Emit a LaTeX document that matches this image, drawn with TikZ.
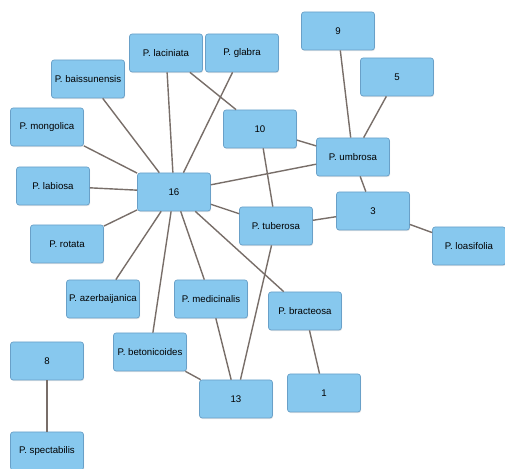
\documentclass[tikz,border=0pt]{standalone}
\usepackage{fontspec}
\setmainfont{Liberation Sans}
\usepackage{tikz}
\usetikzlibrary{shadows}
\definecolor{boxblue}{RGB}{135,200,238}
\definecolor{boxline}{RGB}{105,160,200}
\definecolor{linkgray}{RGB}{120,110,105}

\begin{document}
\begin{tikzpicture}[x=0.02cm,y=-0.02cm,
      every node/.append style={font=\fontsize{5.5}{6}\selectfont},
      sp/.style={draw=boxline,fill=boxblue,rounded corners=1.5pt,minimum width=1.46cm,
        minimum height=0.76cm,inner sep=0pt,drop shadow={opacity=0.2,shadow xshift=0.4pt,shadow yshift=-0.6pt}},
      link/.style={draw=linkgray,line width=0.8pt}]
    \useasboundingbox (0,0) rectangle (505,469);
    % species and haplotype boxes
    \node (lacin) [sp] at (166,53) {P. laciniata};
    \node (glabra) [sp] at (242,53) {P. glabra};
    \node (h9) [sp] at (338,31) {9};
    \node (h5) [sp] at (397,77) {5};
    \node (baiss) [sp] at (88,79) {P. baissunensis};
    \node (mongol) [sp] at (47,127) {P. mongolica};
    \node (h10) [sp] at (260,129) {10};
    \node (umbrosa) [sp] at (353,157) {P. umbrosa};
    \node (labiosa) [sp] at (53,186) {P. labiosa};
    \node (h16) [sp] at (174,192) {16};
    \node (h3) [sp] at (373,211) {3};
    \node (tuberosa) [sp] at (276,226) {P. tuberosa};
    \node (loasi) [sp] at (469,246) {P. loasifolia};
    \node (rotata) [sp] at (67,244) {P. rotata};
    \node (azerb) [sp] at (103,299) {P. azerbaijanica};
    \node (medic) [sp] at (211,299) {P. medicinalis};
    \node (bract) [sp] at (305,311) {P. bracteosa};
    \node (beton) [sp] at (150,352) {P. betonicoides};
    \node (h13) [sp] at (236,399) {13};
    \node (h1) [sp] at (324,393) {1};
    \node (h8) [sp] at (47,361) {8};
    \node (spect) [sp] at (47,451) {P. spectabilis};
    % links
    \foreach \s in {lacin,glabra,baiss,mongol,labiosa,rotata,azerb,beton,medic,bract,tuberosa,umbrosa}
      \draw [link] (h16) -- (\s);
    \draw [link] (lacin) -- (h10);
    \draw [link] (h10) -- (umbrosa);
    \draw [link] (h10) -- (tuberosa);
    \draw [link] (umbrosa) -- (h9);
    \draw [link] (umbrosa) -- (h5);
    \draw [link] (umbrosa) -- (h3);
    \draw [link] (h3) -- (tuberosa);
    \draw [link] (h3) -- (loasi);
    \draw [link] (tuberosa) -- (h13);
    \draw [link] (medic) -- (h13);
    \draw [link] (beton) -- (h13);
    \draw [link] (bract) -- (h1);
    \draw [link] (h8) -- (spect);
\end{tikzpicture}
\end{document}
